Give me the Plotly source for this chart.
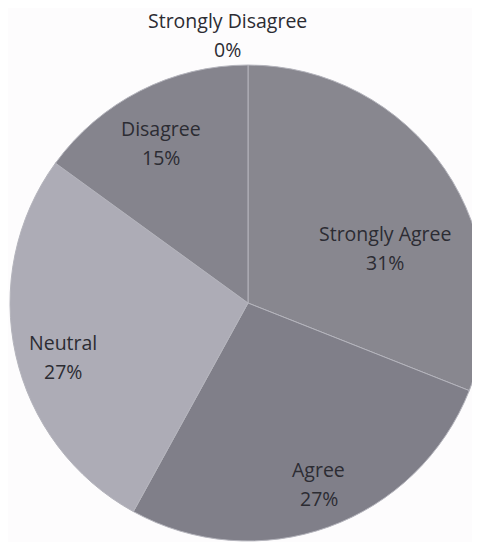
import math
import plotly.graph_objects as go

labels = ["Strongly Agree", "Agree", "Neutral", "Disagree", "Strongly Disagree"]
values = [31, 27, 27, 15, 0]
colors = ["#88878f", "#807f89", "#adacb6", "#85848d", "#85848d"]

# label placement style: (radius fraction, angle nudge in degrees)
label_style = {
    "Strongly Agree": (0.62, 12.5),
    "Agree": (0.815, -1.6),
    "Neutral": (0.81, -3.7),
    "Disagree": (0.765, -1.5),
    "Strongly Disagree": (1.13, -4.4),
}

W, H = 480, 542
dom_x = [0.0042, 0.9958]
dom_y = [0.0166, 0.8948]
FONT = dict(family="Open Sans", size=19.5, color="#2c2c33")

shown = [v > 0 for v in values]
fig = go.Figure(go.Pie(
    labels=[l for l, s in zip(labels, shown) if s],
    values=[v for v, s in zip(values, shown) if s],
    marker=dict(colors=[c for c, s in zip(colors, shown) if s],
                line=dict(color="#b4b4bc", width=1)),
    sort=False, direction="clockwise", rotation=0,
    textinfo="none",
    domain=dict(x=dom_x, y=dom_y),
    hoverinfo="label+percent", showlegend=False,
))

# pie geometry in pixels (from bottom-left)
cx = (dom_x[0] + dom_x[1]) / 2 * W
cy = (dom_y[0] + dom_y[1]) / 2 * H
R = min((dom_x[1] - dom_x[0]) * W, (dom_y[1] - dom_y[0]) * H) / 2

total = sum(values)
cum = 0.0
for l, v in zip(labels, values):
    mid = (cum + v / 2) / total * 360
    cum += v
    rf, dth = label_style[l]
    th = math.radians(mid + dth)
    px = cx + rf * R * math.sin(th)
    py = cy + rf * R * math.cos(th)
    for txt, off in ((l, 14.5), (f"{v}%", -14.5)):
        fig.add_annotation(x=px / W, y=(py + off) / H, xref="paper", yref="paper",
                           xanchor="center", yanchor="middle", showarrow=False,
                           borderpad=0, text=txt, font=FONT)

fig.update_layout(width=W, height=H, margin=dict(l=0, r=0, t=0, b=0),
                  paper_bgcolor="#fdfcfd", plot_bgcolor="#fdfcfd")
fig.write_html("out.html")
